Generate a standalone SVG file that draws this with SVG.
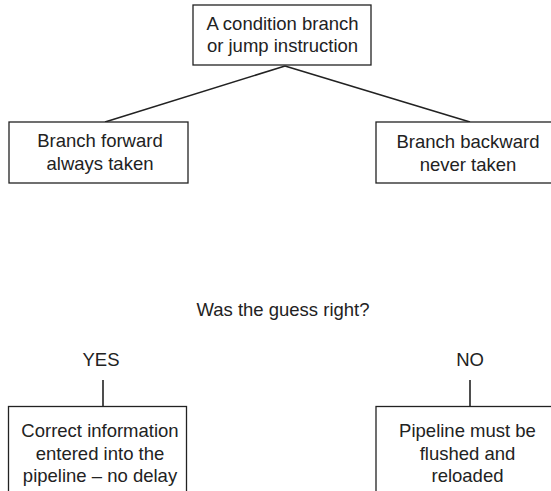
<svg xmlns="http://www.w3.org/2000/svg" width="551" height="491" viewBox="0 0 551 491">
<style>
.box{fill:#fff;stroke:#222;stroke-width:1.3}
.t{font-family:"Liberation Sans",Arial,sans-serif;font-size:18.5px;fill:#222;text-anchor:middle}
.c{stroke:#222;stroke-width:1.6;fill:none}
</style>
<rect width="551" height="491" fill="#fff"/>
<g id="connectors">
<line class="c" x1="285" y1="66" x2="105" y2="122"/>
<line class="c" x1="285" y1="66" x2="470" y2="122"/>
<line class="c" x1="103" y1="380" x2="103" y2="406"/>
<line class="c" x1="470" y1="380" x2="470" y2="406"/>
</g>
<g id="root">
<rect class="box" x="193" y="5" width="178" height="60"/>
<text class="t" x="282.5" y="29.5">A condition branch</text>
<text class="t" x="282.5" y="52">or jump instruction</text>
</g>
<g id="forward">
<rect class="box" x="9" y="122" width="179" height="61"/>
<text class="t" x="100" y="147">Branch forward</text>
<text class="t" x="100" y="169.5">always taken</text>
</g>
<g id="backward">
<rect class="box" x="376" y="122" width="190" height="61"/>
<text class="t" x="468" y="148">Branch backward</text>
<text class="t" x="468" y="170.5">never taken</text>
</g>
<g id="question">
<text class="t" x="283" y="316">Was the guess right?</text>
</g>
<g id="yes">
<text class="t" x="101" y="366">YES</text>
</g>
<g id="no">
<text class="t" x="470" y="366">NO</text>
</g>
<g id="correct">
<rect class="box" x="8.5" y="406.5" width="178" height="100"/>
<text class="t" x="100" y="437">Correct information</text>
<text class="t" x="100" y="459.5">entered into the</text>
<text class="t" x="100" y="482">pipeline – no delay</text>
</g>
<g id="flush">
<rect class="box" x="376" y="406.5" width="190" height="100"/>
<text class="t" x="467.5" y="437">Pipeline must be</text>
<text class="t" x="467.5" y="459.5">flushed and</text>
<text class="t" x="467.5" y="482">reloaded</text>
</g>
</svg>
